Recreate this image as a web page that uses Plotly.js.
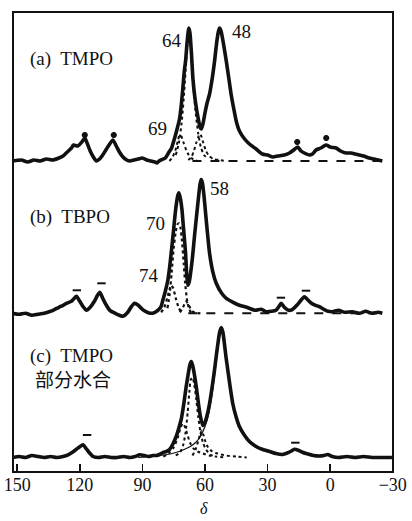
<!DOCTYPE html>
<html><head><meta charset="utf-8">
<script src="https://cdn.plot.ly/plotly-3.0.1.min.js"></script>
<style>html,body{margin:0;padding:0;background:#fff}#chart{width:412px;height:521px}</style>
</head><body><div id="chart"></div>
<script>
// ---- data: chemical shift δ (x) and intensity above each trace's baseline (y) ----
const aSolidX = [152,148,145,142,139,136,133,130,128,126,124,123,121,119,117.6,116.5,115,113.5,112,110.5,109,107.5,106,104.1,102.5,101,99.3,97.5,96,94,92,90,88,86,84,83,82,80,79,77.5,76,75.4,74,73,72.2,71.4,70.6,69.9,69.3,68.6,68,67.7,67.2,66.5,65.8,65,63.9,63,62.4,61.8,61,60,59,57.8,56.5,55.4,54.3,53.5,53,52.3,51.2,49.8,48.6,47.5,46,44.8,43.5,41,38.7,35.5,32.5,30,27.5,25,22,19.5,17.5,15.6,14,12.4,10,8.5,6.8,4.5,2,0,-2.8,-5,-7.6,-10,-12,-14,-16,-18.7,-21,-25];
const aSolidY = [0,1,-1,1,0,2,1,3,5,9,13,16,15,19,23,18,10,4,0,2,6,11,16,21,15,9,4,1,0,1,2,3,1,0,-1,-2,0,2,3,8,13,17,27,35,42,55,73,90,100,118,130,133,128,108,83,66,50,40,34,32,37,48,58,67,83,100,120,130,133,130,118,100,83,67,50,38,30,22,17,12,7,6,4,5,6,8,11,14,10,8,6,7,11,13,16,14,13,10,8,8,7,6,5,3,2,0];
const aComp69X = [77,75.5,74,73,72.2,71.4,70.2,69,67.8,66.5,65,63.5];
const aComp69Y = [0,4,12,20,26,25,18,11,6,3,1,0];
const aComp62X = [68,66.5,65.3,64.2,63.2,62.5,61.8,60.8,59.5,58,56,53,50];
const aComp62Y = [1,4,10,18,24,27,25,18,10,5,2,1,0];
const aComp64X = [74,72.5,71.2,70.2,69.3,68.5,67.7,67,66.2,65.3,64.3,63.2,62,60.5,58.5];
const aComp64Y = [6,18,38,62,90,115,128,120,95,68,45,27,14,6,2];
const aBaseX = [66,-25];
const aBaseY = [0,0];
const aMarkX = [117.6,103.7,15.8,1.9];
const aMarkY = [26,26,19,23];

const bSolidX = [152,149,146,143,140,137,134,132.8,130,128,126.4,124,121.6,120,118.5,116.8,115,113,111.5,110.4,109,107.5,105.6,103,101,99.3,97,95.5,93.7,92,90,88.1,86,84,82.6,81,80.2,79,77.8,77,76.2,75.4,74.6,73.8,73,72.5,71.8,71,70.6,70,69.3,68.8,68.2,67.5,66.6,65.8,64.9,63.9,63,62.3,61.8,61.2,60.5,59.7,58.8,57.8,56.3,54.6,52,49.8,46.5,43.5,40,38.7,36,33,30.7,28,26,24.5,23.5,22,20,18,16,14,12.4,11,9,7,5.2,3,1,-1.1,-4,-7,-10.6,-14,-17,-20,-23,-25];
const bSolidY = [0,-1,0,-2,-1,0,2,3,6,8,10,12,17,12,7,3,6,12,18,21,15,9,3,0,-2,-3,1,6,10,8,4,1.5,0,1,3,7,13,22,33,45,60,76,93,108,118,120.5,115,103,93,78,60,40,28,32,45,60,80,100,118,130,133.7,130,118,100,80,60,42,30,20,15,11,8,6,5,3,4,1.6,2,3,7,10,6,3,4,8,13,16.6,14,10,8,6.6,4,2,1.6,3,1,1.6,0,2,0,1,0];
const bComp70X = [78,77,76,75,74,73.2,72.5,71.8,71,70.2,69.5,68.5,67.5,66.5];
const bComp70Y = [5,18,40,65,82,89,90,86,72,50,30,12,4,0];
const bComp74X = [81,79.5,78,77,76.2,75.2,74,72.5,71];
const bComp74Y = [1,6,16,24,28,25,15,5,0];
const bComp69X = [72,70.5,69.5,69,68,67,66,64.5,62];
const bComp69Y = [1,6,11,12,9,5,2,0.5,0];
const bBaseX = [68,-25];
const bBaseY = [0,0];
const bMarkX = [121.4,109.6,23.6,11.6];
const bMarkY = [23,30,15.6,22.6];

const cSolidX = [152,149,146,143,140,137,134,131,128,125.6,123,120.5,118.4,117,115.5,113.6,111,108,105,102,99,96,93.5,91.3,89,87,85,83,81.8,80,78.5,77,75.5,73.8,72.6,71.4,70.2,69,68,67.2,66.6,65.9,65,64.2,63.2,62.1,61,60,59,57.8,56.6,55.4,54.5,53.8,53,52.2,51.4,50.7,49.9,49.1,47.9,46.7,45,43.5,41,38.7,35.5,32.3,29,26,23,21.2,19,17.1,15,13,11.5,8,5.2,3,1.2,-1,-4,-8,-12,-16,-20,-25,-29.6];
const cSolidY = [0,1,0,2,1,0,1,0,1,2.7,6,10,12.7,9,5,1,0,1,0,0,1,0,1,2.7,2,1,2,2,3,5,6,8,13,21,29,38,53,71,84,93,96,92,82,71,55,40,32,35,42,54,70,88,103,114,125,130,125,114,100,88,70,54,40,31,22,16,11,8,6,4,3,4,6,8.3,7,5,4,2,1.5,2,3,1,0,1,0,1,0,0,0];
const cComp48X = [92,86,82,78,74,70,67,64.5,62.5,61,59.5,58,56.6,55.4,54.5,53.8,53,52.2,51.4,50.7,49.9,49.1,47.9,46.7,45,43.5,41,38.7,35.5,32.3,29,26];
const cComp48Y = [0,1,2,3,5,8,11,15,20,26,34,46,63,82,98,110,121,126,121,110,97,85,68,52,39,30,21,15,10,7,5,3];
const cComp66X = [74,72,70.5,69.3,68.3,67.5,66.8,66,65.2,64.2,63.2,62.2,61,59.5,57.5,55];
const cComp66Y = [2,5,12,25,45,65,78,80,74,58,40,26,15,8,3,1];
const cComp71X = [80,77.5,75,73,71.8,70.6,69.5,68.3,67,65.5,63.5,61,58,55,50];
const cComp71Y = [1,4,10,20,29,34,30,22,14,9,6,4,2,1,0];
const cComp61X = [66,64.5,63.2,62.2,61.5,60.8,59.8,58.5,56.5,54,50,45,40];
const cComp61Y = [2,8,17,24,27,23,16,10,6,4,2,1,0];
const cMarkX = [116.5,16.7];
const cMarkY = [22.5,14.8];

const tickVals = [150,120,90,60,30,0,-30];
const tickText = ['150','120','90','60','30','0','\u221230'];

// ---- layout constants (stacking offsets) ----
const OFF = {a: 311, b: 158.7, c: 14.5};
const INK = '#111';
const shift = (arr, o) => arr.map(v => v + o);

function line(x, y, off, w, dash, shape) {
  return {x: x, y: shift(y, off), mode: 'lines',
    line: {color: INK, width: w, dash: dash || 'solid', shape: shape || 'spline', smoothing: 0.6}};
}
function marks(x, y, off, sym, size) {
  return {x: x, y: shift(y, off), mode: 'markers',
    marker: {symbol: sym, size: size, color: INK, line: {color: INK, width: 2}}};
}

const traces = [
  line(aBaseX, aBaseY, OFF.a, 2, 'dash', 'linear'),
  line(aComp69X, aComp69Y, OFF.a, 2, 'dot'),
  line(aComp62X, aComp62Y, OFF.a, 2, 'dot'),
  line(aComp64X, aComp64Y, OFF.a, 2, 'dot'),
  line(aSolidX, aSolidY, OFF.a, 3.6),
  marks(aMarkX, aMarkY, OFF.a, 'asterisk-open', 5),

  line(bBaseX, bBaseY, OFF.b, 2, 'dash', 'linear'),
  line(bComp70X, bComp70Y, OFF.b, 2.2, 'dot'),
  line(bComp74X, bComp74Y, OFF.b, 2.2, 'dot'),
  line(bComp69X, bComp69Y, OFF.b, 2.2, 'dot'),
  line(bSolidX, bSolidY, OFF.b, 3.6),
  marks(bMarkX, bMarkY, OFF.b, 'line-ew-open', 6),

  line(cComp48X, cComp48Y, OFF.c, 1.2),
  line(cComp66X, cComp66Y, OFF.c, 2, 'dot'),
  line(cComp71X, cComp71Y, OFF.c, 2, 'dot'),
  line(cComp61X, cComp61Y, OFF.c, 2, 'dot'),
  line(cSolidX, cSolidY, OFF.c, 3.6),
  marks(cMarkX, cMarkY, OFF.c, 'line-ew-open', 6)
];

const SERIF = 'Liberation Serif, Times New Roman, serif';
function ann(text, x, y, anchor, size) {
  return {text: text, xref: 'paper', yref: 'paper', x: x, y: y, xanchor: anchor || 'center', yanchor: 'middle',
    showarrow: false, font: {family: SERIF + ', Noto Sans CJK SC', size: size || 19, color: INK}};
}

const layout = {
  width: 412, height: 521,
  margin: {l: 13, r: 19, t: 12, b: 49},
  paper_bgcolor: '#fff', plot_bgcolor: '#fff',
  showlegend: false,
  xaxis: {
    range: [152.0, -30.1], autorange: false,
    tickvals: tickVals, ticktext: tickText,
    ticks: 'inside', ticklen: 8, tickwidth: 1.5, tickcolor: INK,
    showline: false, showgrid: false, zeroline: false,
    tickfont: {family: SERIF, size: 18, color: INK}
  },
  yaxis: {
    range: [0, 460], autorange: false, fixedrange: true,
    showticklabels: false, showgrid: false, zeroline: false, showline: false,
    ticks: '', nticks: 0
  },
  shapes: [
    {type: 'rect', xref: 'paper', yref: 'paper', x0: 0, x1: 1, y0: 0, y1: 1,
     line: {color: INK, width: 2}, fillcolor: 'rgba(0,0,0,0)', layer: 'above'}
  ],
  annotations: [
    ann('(a)  TMPO', 0.04, 0.898, 'left'),
    ann('(b)  TBPO', 0.04, 0.555, 'left'),
    ann('(c)  TMPO', 0.04, 0.252, 'left'),
    ann('部分水合', 0.053, 0.200, 'left'),
    ann('64', 0.4176, 0.939),
    ann('48', 0.600, 0.9576),
    ann('69', 0.380, 0.7467),
    ann('70', 0.3763, 0.5406),
    ann('74', 0.358, 0.428),
    ann('58', 0.5447, 0.6167),
    ann('<i>\u03b4</i>', 0.5026, -0.080, 'center', 16)
  ]
};

Plotly.newPlot('chart', traces, layout, {staticPlot: true, displayModeBar: false});
</script></body></html>
